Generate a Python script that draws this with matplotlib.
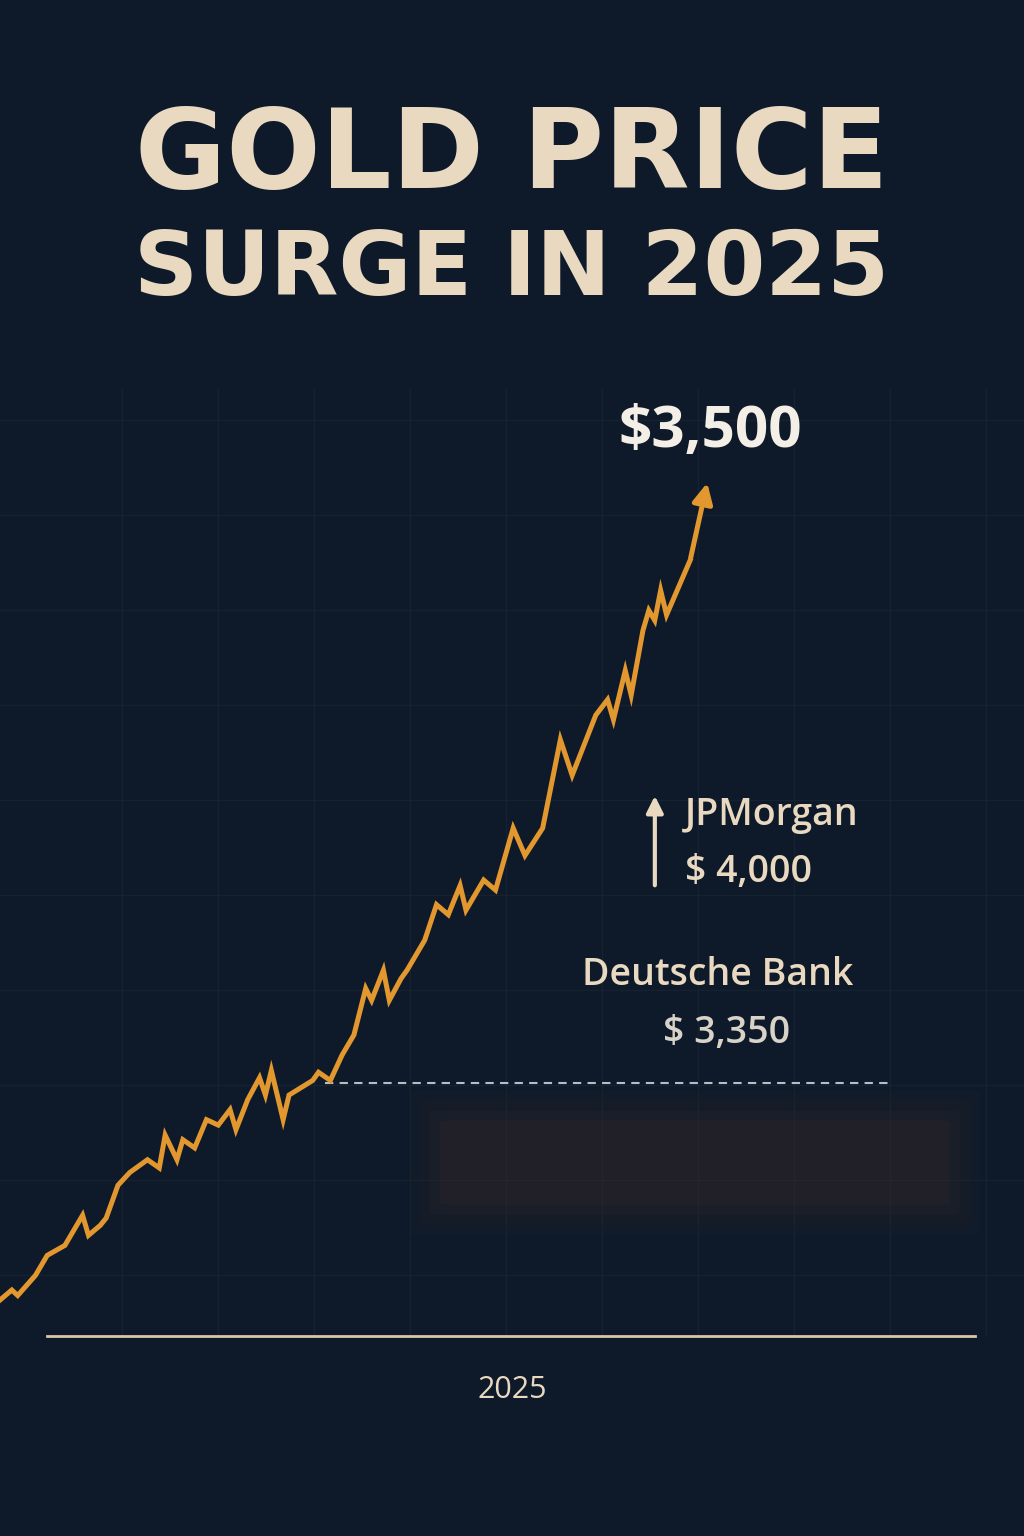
import matplotlib
matplotlib.use("Agg")
import matplotlib.pyplot as plt
from matplotlib.patches import FancyBboxPatch

days = [0,2,3,6,8,11,14,15,17,18,20,22,25,27,28,30,31,33,35,37,39,40,42,44,45,46,48,49,51,53,54,56,58,60,62,63,65,66,68,69,72,74,76,78,79,82,84,87,89,92,95,97,101,103,104,106,107,109,110,111,112,113,117,120]
prices = [2600,2611,2605,2627,2649,2660,2693,2671,2682,2690,2726,2740,2754,2745,2781,2754,2776,2767,2798,2792,2809,2787,2820,2844,2825,2852,2798,2825,2833,2841,2850,2841,2869,2891,2942,2929,2962,2929,2953,2962,2995,3034,3023,3055,3028,3061,3050,3118,3088,3118,3215,3176,3242,3259,3237,3291,3264,3335,3357,3346,3379,3352,3412,3500]
title_lines = ["GOLD PRICE", "SURGE IN 2025"]
peak_label = "$3,500"
forecasts = [("JPMorgan", "$ 4,000"), ("Deutsche Bank", "$ 3,350")]
ref_level = 2838
x_label = "2025"

BG = "#0e1a2a"
BEIGE = "#e9d9c1"
GOLD = "#e2982f"

fig = plt.figure(figsize=(10.24, 15.36), dpi=100, facecolor=BG)
ax = fig.add_axes([0, 0, 1, 1])
ax.set_facecolor(BG)
ax.set_xlim(0, 173.6)
ax.set_ylim(2341, 4027)
ax.axis("off")

def px2y(py):
    return 2600 + (1300 - py) * 1.0976
def px2x(px):
    return px / 5.9

# faint grid
for gx in range(122, 1000, 96):
    ax.plot([px2x(gx)]*2, [px2y(1336), px2y(390)], color="#15222f", lw=1, zorder=0)
for gy in range(420, 1336, 95):
    ax.plot([0, px2x(1024)], [px2y(gy)]*2, color="#15222f", lw=1, zorder=0)

# blurred box
for i, a in enumerate([0.05, 0.07, 0.1, 0.16]):
    pad = (3 - i) * 10
    ax.add_patch(FancyBboxPatch((px2x(440 - pad), px2y(1205 + pad)),
                                px2x(510 + 2*pad), px2y(1120 - pad) - px2y(1205 + pad),
                                boxstyle="round,pad=0,rounding_size=3", fc="#4a3028", ec="none", alpha=a, zorder=1))

ax.plot([px2x(47), px2x(975)], [px2y(1336)]*2, color="#d8c7a8", lw=2, zorder=2)
ax.plot([px2x(325), px2x(890)], [ref_level]*2, color="#b8bcc4", lw=1.5, ls=(0, (4, 3)), zorder=2)

ax.plot(days[:-1], prices[:-1], color=GOLD, lw=3.6, zorder=3, solid_joinstyle="miter")
ax.annotate("", xy=(days[-1], prices[-1]), xytext=(days[-2], prices[-2]),
            arrowprops=dict(arrowstyle="-|>,head_length=1.2,head_width=0.6", color=GOLD, lw=3.6), zorder=3)

ax.text(0.5, 1 - 158/1536, title_lines[0], transform=ax.transAxes, ha="center", va="center",
        fontsize=80, fontweight="bold", color=BEIGE, family="DejaVu Sans")
ax.text(0.5, 1 - 270/1536, title_lines[1], transform=ax.transAxes, ha="center", va="center",
        fontsize=64, fontweight="bold", color=BEIGE, family="DejaVu Sans")

ax.text(px2x(710), px2y(432), peak_label, ha="center", va="center", fontsize=42, fontweight="bold",
        color="#f4efe6", family="Open Sans")

ax.annotate("", xy=(px2x(655), px2y(793)), xytext=(px2x(655), px2y(888)),
            arrowprops=dict(arrowstyle="-|>,head_length=1.0,head_width=0.5", color=BEIGE, lw=3))
kw = dict(fontsize=27, color=BEIGE, family="Open Sans", fontweight="semibold")
ax.text(px2x(685), px2y(815), forecasts[0][0], ha="left", va="center", **kw)
ax.text(px2x(685), px2y(872), forecasts[0][1], ha="left", va="center", **kw)
ax.text(px2x(718), px2y(975), forecasts[1][0], ha="center", va="center", **kw)
kw2 = dict(kw); kw2["color"] = "#d8d2c8"
ax.text(px2x(727), px2y(1033), forecasts[1][1], ha="center", va="center", **kw2)

ax.text(px2x(512), px2y(1390), x_label, ha="center", va="center", fontsize=22, color=BEIGE, family="Open Sans")

fig.savefig("out.png", dpi=100, facecolor=BG)
